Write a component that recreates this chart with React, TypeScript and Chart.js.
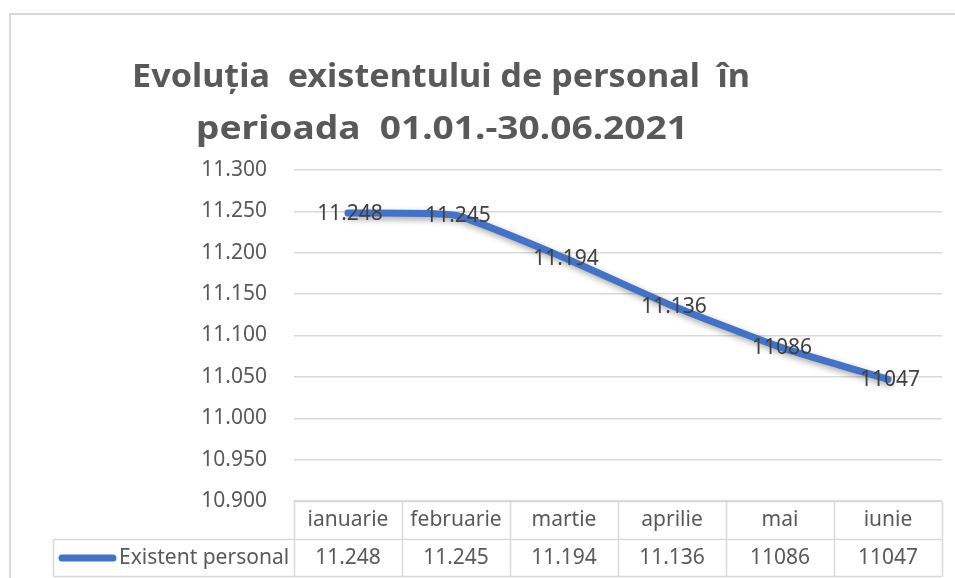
import React, { useEffect, useRef } from "react";
import { Chart, registerables } from "chart.js";

Chart.register(...registerables);

const categories = ["ianuarie", "februarie", "martie", "aprilie", "mai", "iunie"];
const values = [11248, 11245, 11194, 11136, 11086, 11047];
const valueLabels = ["11.248", "11.245", "11.194", "11.136", "11086", "11047"];
const seriesName = "Existent personal";
const titleLines = ["Evoluția  existentului de personal  în", "perioada  01.01.-30.06.2021"];
const yMin = 10900;
const yMax = 11300;
const yStep = 50;

const LINE_COLOR = "#4472C4";
const GRID_COLOR = "#d9d9d9";
const TEXT_COLOR = "#595959";
const LABEL_COLOR = "#404040";
const FONT = "'Noto Sans', 'DejaVu Sans', sans-serif";

function fmtThousands(v: number): string {
  const n = Math.round(v);
  const th = Math.floor(n / 1000);
  const rest = String(n % 1000).padStart(3, "0");
  return th + "." + rest;
}

function drawScaled(ctx: CanvasRenderingContext2D, text: string, cx: number, baseline: number, targetW: number) {
  const w = ctx.measureText(text).width;
  const sx = w > 0 ? targetW / w : 1;
  ctx.save();
  ctx.translate(cx, baseline);
  ctx.scale(sx, 1);
  ctx.textAlign = "center";
  ctx.textBaseline = "alphabetic";
  ctx.fillText(text, 0, 0);
  ctx.restore();
}

const framePlugin = {
  id: "frame",
  beforeDraw(chart: any) {
    const ctx = chart.ctx as CanvasRenderingContext2D;
    ctx.save();
    ctx.fillStyle = "#ffffff";
    ctx.fillRect(0, 0, chart.width, chart.height);
    ctx.strokeStyle = GRID_COLOR;
    ctx.lineWidth = 2;
    ctx.beginPath();
    ctx.moveTo(9, 14);
    ctx.lineTo(chart.width, 14);
    ctx.moveTo(10, 13);
    ctx.lineTo(10, chart.height);
    ctx.stroke();
    ctx.restore();
  },
};

const shadowPlugin = {
  id: "lineShadow",
  beforeDatasetsDraw(chart: any) {
    const ctx = chart.ctx as CanvasRenderingContext2D;
    ctx.save();
    ctx.shadowColor = "rgba(0,0,0,0.35)";
    ctx.shadowBlur = 6;
    ctx.shadowOffsetX = 2;
    ctx.shadowOffsetY = 3;
  },
  afterDatasetsDraw(chart: any) {
    const ctx = chart.ctx as CanvasRenderingContext2D;
    ctx.restore();
    const meta = chart.getDatasetMeta(0);
    ctx.save();
    ctx.font = `21px ${FONT}`;
    ctx.fillStyle = LABEL_COLOR;
    ctx.textAlign = "center";
    ctx.textBaseline = "middle";
    meta.data.forEach((pt: any, i: number) => {
      ctx.fillText(valueLabels[i], pt.x + 2, pt.y + 1);
    });
    ctx.restore();
  },
};

const tablePlugin = {
  id: "dataTable",
  afterDraw(chart: any) {
    const ctx = chart.ctx as CanvasRenderingContext2D;
    const area = chart.chartArea;
    const xScale = chart.scales.x;
    const n = categories.length;
    const bw = (area.right - area.left) / n;
    const top = Math.round(area.bottom) + 0.5;
    const mid = top + 38;
    const bottom = mid + 37;
    const legendLeft = 53.5;
    ctx.save();
    ctx.strokeStyle = GRID_COLOR;
    ctx.lineWidth = 1.5;
    ctx.beginPath();
    ctx.moveTo(area.left, top);
    ctx.lineTo(area.right, top);
    ctx.moveTo(legendLeft, mid);
    ctx.lineTo(area.right, mid);
    ctx.moveTo(legendLeft, bottom);
    ctx.lineTo(area.right, bottom);
    for (let i = 0; i <= n; i++) {
      const x = Math.round(area.left + i * bw) + 0.5;
      ctx.moveTo(x, top);
      ctx.lineTo(x, bottom);
    }
    ctx.moveTo(legendLeft, mid);
    ctx.lineTo(legendLeft, bottom);
    ctx.stroke();

    ctx.font = `21px ${FONT}`;
    ctx.fillStyle = TEXT_COLOR;
    ctx.textAlign = "center";
    ctx.textBaseline = "middle";
    for (let i = 0; i < n; i++) {
      const cx = xScale.getPixelForValue(i);
      ctx.fillText(categories[i], cx, (top + mid) / 2);
      ctx.fillText(valueLabels[i], cx, (mid + bottom) / 2);
    }
    ctx.strokeStyle = LINE_COLOR;
    ctx.lineWidth = 7;
    ctx.lineCap = "round";
    ctx.beginPath();
    ctx.moveTo(62, (mid + bottom) / 2);
    ctx.lineTo(113, (mid + bottom) / 2);
    ctx.stroke();
    ctx.textAlign = "left";
    ctx.fillText(seriesName, 119, (mid + bottom) / 2);

    ctx.font = `bold 32px ${FONT}`;
    ctx.fillStyle = TEXT_COLOR;
    drawScaled(ctx, titleLines[0], 441, 87, 618);
    drawScaled(ctx, titleLines[1], 442, 139, 492);
    ctx.restore();
  },
};

export default function App() {
  const canvasRef = useRef<HTMLCanvasElement | null>(null);

  useEffect(() => {
    const canvas = canvasRef.current;
    if (!canvas) return;
    const chart = new Chart(canvas, {
      type: "line",
      data: {
        labels: categories,
        datasets: [
          {
            label: seriesName,
            data: values,
            borderColor: LINE_COLOR,
            backgroundColor: LINE_COLOR,
            borderWidth: 7,
            borderCapStyle: "round",
            borderJoinStyle: "round",
            pointRadius: 0,
            pointHoverRadius: 0,
            tension: 0.15,
            fill: false,
          },
        ],
      },
      options: {
        responsive: false,
        animation: false,
        devicePixelRatio: 1,
        layout: { padding: { left: 0, top: 170, right: 13, bottom: 77 } },
        plugins: {
          legend: { display: false },
          title: { display: false },
          tooltip: { enabled: false },
        },
        scales: {
          x: {
            type: "category",
            display: false,
            offset: true,
            grid: { display: false },
          },
          y: {
            min: yMin,
            max: yMax,
            border: { display: false },
            grid: { color: GRID_COLOR, lineWidth: 1.5, drawTicks: false },
            ticks: {
              stepSize: yStep,
              padding: 27,
              color: TEXT_COLOR,
              font: { family: FONT, size: 21 },
              callback: (v: any) => fmtThousands(Number(v)),
            },
            afterFit: (scale: any) => {
              scale.width = 294;
            },
          },
        },
      },
      plugins: [framePlugin, shadowPlugin, tablePlugin],
    });
    return () => chart.destroy();
  }, []);

  return (
    <div style={{ position: "absolute", left: 0, top: 0, width: 955, height: 578, background: "#fff" }}>
      <canvas ref={canvasRef} width={955} height={578} style={{ display: "block" }} />
    </div>
  );
}
